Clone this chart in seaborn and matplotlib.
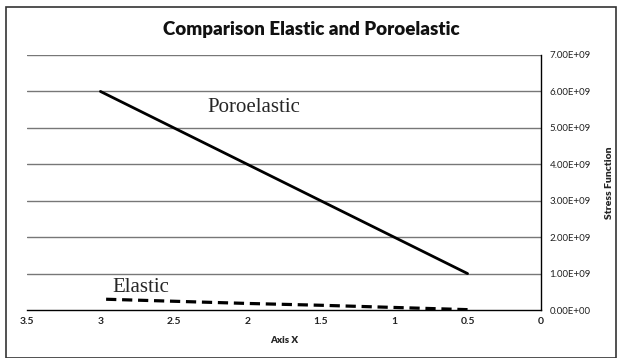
import matplotlib
matplotlib.use("Agg")
import matplotlib.pyplot as plt
import seaborn as sns
import pandas as pd
from matplotlib.patches import Rectangle
from matplotlib.ticker import FuncFormatter

x_vals = [3.0, 2.5, 2.0, 1.5, 1.0, 0.5]
poroelastic = [6.0e9, 5.0e9, 4.0e9, 3.0e9, 2.0e9, 1.0e9]
elastic = [3.0e8, 2.4e8, 1.8e8, 1.3e8, 0.7e8, 0.1e8]
x_ticks = [3.5, 3, 2.5, 2, 1.5, 1, 0.5, 0]
y_ticks = [0, 1e9, 2e9, 3e9, 4e9, 5e9, 6e9, 7e9]

df = pd.DataFrame({"x": x_vals + x_vals,
                   "y": poroelastic + elastic,
                   "series": ["Poroelastic"] * len(x_vals) + ["Elastic"] * len(x_vals)})

sns.set_theme(style="white")
plt.rcParams['font.family'] = ['Lato', 'DejaVu Sans']

fig = plt.figure(figsize=(6.22, 3.58), dpi=100)
ax = fig.add_axes([27/622, 1-310/358, (541-27)/622, (310-55)/358])

sns.lineplot(data=df[df.series == "Poroelastic"], x="x", y="y", ax=ax,
             color="black", linewidth=2.0, legend=False)
sns.lineplot(data=df[df.series == "Elastic"], x="x", y="y", ax=ax,
             color="black", linewidth=2.3, linestyle=(0, (3.2, 1.8)), legend=False)

ax.set_xlim(3.5, 0)
ax.set_ylim(0, 7e9)
ax.set_xticks(x_ticks)
ax.set_xticklabels([("%g" % t) for t in x_ticks], fontsize=7.5, fontweight="bold", color="#222222")
ax.set_yticks(y_ticks)
ax.yaxis.set_major_formatter(FuncFormatter(lambda v, p: ("%.2E" % v)))
ax.yaxis.tick_right()
ax.yaxis.set_label_position("right")
ax.tick_params(axis="y", labelsize=7, pad=6, length=0, colors="#222222")
ax.tick_params(axis="x", pad=5, length=0)
for t in y_ticks[1:]:
    ax.axhline(t, color="#777777", linewidth=1.0, zorder=0)
for s in ["left", "top"]:
    ax.spines[s].set_visible(False)
ax.spines["right"].set_color("black")
ax.spines["right"].set_linewidth(1.0)
ax.spines["bottom"].set_color("black")
ax.spines["bottom"].set_linewidth(1.0)

ax.set_xlabel("Axis X", fontsize=7, fontweight="heavy", labelpad=7)
ax.set_ylabel("Stress Function", fontsize=7.5, fontweight="heavy", labelpad=10)

fig.text(0.5, 1-30/358, "Comparison Elastic and Poroelastic", ha="center", va="center",
         fontsize=13.5, fontweight="heavy", color="#111111")

ax.text(2.27, 5.55e9, "Poroelastic", fontsize=15, family=["Liberation Serif"], va="center")
ax.text(2.92, 0.63e9, "Elastic", fontsize=15, family=["Liberation Serif"], va="center")

fig.patches.append(Rectangle((6/622, 0.0), 610/622, 1-7/358, transform=fig.transFigure,
                             fill=False, edgecolor="#333333", linewidth=1.2))

fig.savefig("out.png", dpi=100)
